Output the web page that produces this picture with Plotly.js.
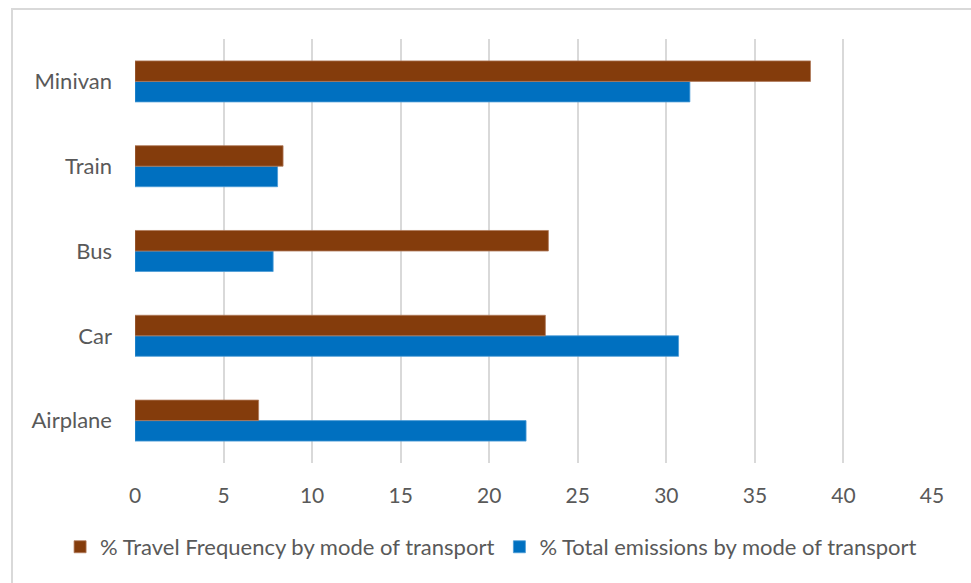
<!DOCTYPE html>
<html>
<head>
<meta charset="utf-8">
<script src="https://cdn.plot.ly/plotly-3.0.1.min.js"></script>
<style>
html,body{margin:0;padding:0;background:#fff;}
#chart{width:971px;height:583px;position:absolute;left:0;top:0;}
#frame{position:absolute;left:11px;top:8px;width:990px;height:600px;border-top:2px solid #d9d9d9;border-left:2px solid #d9d9d9;pointer-events:none;}
</style>
</head>
<body>
<div id="chart"></div>
<div id="frame"></div>
<script>
var categories = ["Airplane", "Car", "Bus", "Train", "Minivan"];
var travelFrequency = [6.98, 23.17, 23.34, 8.36, 38.14];
var totalEmissions = [22.08, 30.69, 7.8, 8.05, 31.33];
var xTicks = [0, 5, 10, 15, 20, 25, 30, 35, 40, 45];
var seriesNames = ["% Travel Frequency by mode of transport", "% Total emissions by mode of transport"];

var fontFam = "Lato, 'Open Sans', sans-serif";

var traces = [
  {
    type: "bar", orientation: "h",
    y: categories, x: totalEmissions,
    name: seriesNames[1],
    marker: {color: "#0070C0", line: {color: "#4a9ad6", width: 0.8}},
    legendrank: 2,
    hoverinfo: "x+y"
  },
  {
    type: "bar", orientation: "h",
    y: categories, x: travelFrequency,
    name: seriesNames[0],
    marker: {color: "#843C0C", line: {color: "#b07a5a", width: 0.8}},
    legendrank: 1,
    hoverinfo: "x+y"
  }
];

var layout = {
  width: 971, height: 583,
  margin: {l: 134.5, r: 38.7, t: 39, b: 120},
  paper_bgcolor: "#ffffff", plot_bgcolor: "#ffffff",
  barmode: "group",
  bargap: 0.516,
  bargroupgap: 0,
  font: {family: fontFam, size: 22, color: "#595959"},
  showlegend: true,
  legend: {
    orientation: "h",
    x: -0.094, xanchor: "left",
    y: -0.198, yanchor: "middle",
    font: {family: fontFam, size: 22, color: "#595959"},
    itemwidth: 30,
    traceorder: "normal"
  },
  xaxis: {
    range: [0, 45],
    tickvals: xTicks,
    ticktext: xTicks.map(String),
    showgrid: true, gridcolor: "#d9d9d9", gridwidth: 2,
    zeroline: false,
    showline: false,
    ticks: "",
    ticklabelstandoff: 18,
    tickfont: {family: fontFam, size: 21, color: "#595959"},
    fixedrange: true
  },
  yaxis: {
    type: "category",
    categoryorder: "array", categoryarray: categories,
    showgrid: false, zeroline: false, showline: false,
    ticks: "",
    ticklabelstandoff: 22,
    tickfont: {family: fontFam, size: 22, color: "#595959"},
    fixedrange: true
  }
};

Plotly.newPlot("chart", traces, layout, {displayModeBar: false, staticPlot: true});
</script>
</body>
</html>
